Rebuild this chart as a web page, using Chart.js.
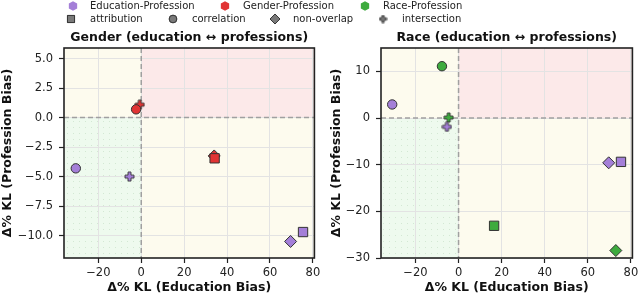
<!DOCTYPE html>
<html>
<head>
<meta charset="utf-8">
<script src="https://cdn.jsdelivr.net/npm/chart.js@4.4.1/dist/chart.umd.min.js"></script>
<style>
  html, body { margin: 0; padding: 0; background: #fff; }
  #wrap { position: relative; width: 640px; height: 295px; font-family: "DejaVu Sans", sans-serif; overflow: hidden; }
  #legendMarks { position: absolute; left: 0; top: 0; }
  #c1 { position: absolute; left: 0; top: 0; }
  #c2 { position: absolute; left: 322px; top: 0; }
  .lg { position: absolute; font-size: 10px; line-height: 12px; color: #222; white-space: nowrap; }
</style>
</head>
<body>
<div id="wrap">
  <canvas id="legendMarks" width="640" height="28"></canvas>
  <canvas id="c1" width="322" height="295"></canvas>
  <canvas id="c2" width="318" height="295"></canvas>
</div>
<script>
// ----- data -----
const groups = ['Education-Profession', 'Gender-Profession', 'Race-Profession']
const groupColors = ['#a47fd8', '#e13434', '#3eab3e']
const legendMarkers = ['attribution', 'correlation', 'non-overlap', 'intersection']
// point order inside each series (later ones are drawn on top)
const markerOrder = ['non-overlap', 'intersection', 'correlation', 'attribution']

// Gender panel: education vs professions
const genderEduX = [69.6, -5.5, -30.5, 75.4]
const genderEduY = [-10.5, -5.0, -4.3, -9.7]
const genderGenX = [34.0, -0.7, -2.4, 34.2]
const genderGenY = [-3.25, 1.1, 0.7, -3.45]

// Race panel: education vs professions
const raceEduX = [69.7, -5.4, -30.8, 75.4]
const raceEduY = [-9.6, -1.9, 2.9, -9.4]
const raceRaceX = [73.0, -4.6, -7.7, 16.5]
const raceRaceY = [-28.4, 0.1, 11.1, -23.1]

// ticks
const xTicks = [-20, 0, 20, 40, 60, 80]
const genderYTicks = [-10, -7.5, -5, -2.5, 0, 2.5, 5]
const raceYTicks = [-30, -20, -10, 0, 10]

Chart.defaults.font.family = "'DejaVu Sans', sans-serif"

// ----- helpers -----
const fmt = (v, dec) => (v < 0 ? '\u2212' : '') + Math.abs(v).toFixed(dec)
const pts = (xs, ys) => xs.map((x, i) => ({ x, y: ys[i] }))

function plusImage(fill, size) {
  const c = document.createElement('canvas')
  c.width = c.height = size + 2
  const ctx = c.getContext('2d')
  const o = 1, a = size / 3, b = 2 * size / 3, s = size
  ctx.beginPath()
  ctx.moveTo(o + a, o); ctx.lineTo(o + b, o); ctx.lineTo(o + b, o + a)
  ctx.lineTo(o + s, o + a); ctx.lineTo(o + s, o + b); ctx.lineTo(o + b, o + b)
  ctx.lineTo(o + b, o + s); ctx.lineTo(o + a, o + s); ctx.lineTo(o + a, o + b)
  ctx.lineTo(o, o + b); ctx.lineTo(o, o + a); ctx.lineTo(o + a, o + a)
  ctx.closePath()
  ctx.fillStyle = fill
  ctx.fill()
  ctx.strokeStyle = '#333'
  ctx.lineWidth = 0.9
  ctx.stroke()
  return c
}

const styleOf = (m, color) => ({
  'attribution': 'rect', 'correlation': 'circle', 'non-overlap': 'rectRot', 'intersection': plusImage(color, 9),
}[m])
const radiusOf = { 'attribution': 6.6, 'correlation': 4.7, 'non-overlap': 6, 'intersection': 5 }

function series(label, color, xs, ys) {
  return {
    label,
    data: pts(xs, ys),
    pointStyle: markerOrder.map(m => styleOf(m, color)),
    pointRadius: markerOrder.map(m => radiusOf[m]),
    backgroundColor: color,
    borderColor: '#333',
    borderWidth: 1,
  }
}

// quadrant shading, zero lines, frame, panel title
const dotCanvas = document.createElement('canvas')
dotCanvas.width = dotCanvas.height = 6
{
  const d = dotCanvas.getContext('2d')
  d.fillStyle = '#eefaee'
  d.fillRect(0, 0, 6, 6)
  d.fillStyle = 'rgba(90,150,90,0.18)'
  d.fillRect(1, 1, 1, 1)
}

const panelPlugin = {
  id: 'panel',
  beforeDraw(chart) {
    const { ctx, chartArea: a, scales: { x, y } } = chart
    const x0 = x.getPixelForValue(0), y0 = y.getPixelForValue(0)
    ctx.save()
    ctx.fillStyle = '#fdfbee'
    ctx.fillRect(a.left, a.top, a.right - a.left, a.bottom - a.top)
    ctx.fillStyle = '#fce9e9'
    ctx.fillRect(x0, a.top, a.right - x0, y0 - a.top)
    ctx.fillStyle = ctx.createPattern(dotCanvas, 'repeat')
    ctx.fillRect(a.left, y0, x0 - a.left, a.bottom - y0)
    ctx.restore()
  },
  beforeDatasetsDraw(chart) {
    const { ctx, chartArea: a, scales: { x, y } } = chart
    const x0 = x.getPixelForValue(0), y0 = y.getPixelForValue(0)
    ctx.save()
    ctx.strokeStyle = '#a0a0a0'
    ctx.lineWidth = 1.5
    ctx.setLineDash([5, 3])
    ctx.beginPath()
    ctx.moveTo(x0, a.top); ctx.lineTo(x0, a.bottom)
    ctx.moveTo(a.left, y0); ctx.lineTo(a.right, y0)
    ctx.stroke()
    ctx.setLineDash([])
    ctx.strokeStyle = '#222'
    ctx.lineWidth = 1.6
    ctx.strokeRect(a.left, a.top, a.right - a.left, a.bottom - a.top)
    ctx.restore()
  },
  afterDraw(chart, args, opts) {
    const { ctx, chartArea: a } = chart
    ctx.save()
    ctx.font = "bold 12.5px 'DejaVu Sans', sans-serif"
    ctx.fillStyle = '#111'
    ctx.textAlign = 'center'
    ctx.textBaseline = 'middle'
    ctx.fillText(opts.text, (a.left + a.right) / 2, a.top - 10)
    ctx.restore()
  },
}

function makeChart(el, opt) {
  return new Chart(el, {
    type: 'scatter',
    data: { datasets: opt.datasets },
    plugins: [panelPlugin],
    options: {
      responsive: false,
      animation: false,
      events: [],
      layout: { padding: { top: 48, right: opt.padRight, left: 0, bottom: 0 } },
      plugins: {
        legend: { display: false },
        tooltip: { enabled: false },
        panel: { text: opt.title },
      },
      scales: {
        x: {
          type: 'linear', min: -36, max: 80.7,
          afterBuildTicks: s => { s.ticks = xTicks.map(v => ({ value: v })) },
          afterFit: s => { s.height = 37; s.paddingLeft = 0; s.paddingRight = 0 },
          grid: { color: '#e3e3e3', lineWidth: 1, tickColor: '#222', tickLength: 5, tickWidth: 1.2 },
          border: { display: false },
          ticks: { color: '#222', font: { size: 11.5 }, padding: 3, maxRotation: 0, autoSkip: false, callback: v => fmt(v, 0) },
          title: { display: true, text: 'Δ% KL (Education Bias)', color: '#111', font: { size: 12.5, weight: 'bold' }, padding: 0 },
        },
        y: {
          type: 'linear', min: opt.yMin, max: opt.yMax,
          afterBuildTicks: s => { s.ticks = opt.yTicks.map(v => ({ value: v })) },
          afterFit: s => { s.width = opt.yWidth; s.paddingTop = 0; s.paddingBottom = 0 },
          grid: { color: '#e3e3e3', lineWidth: 1, tickColor: '#222', tickLength: 5, tickWidth: 1.2 },
          border: { display: false },
          ticks: { color: '#222', font: { size: 11.5 }, padding: 6, autoSkip: false, callback: v => fmt(v, opt.yDec) },
          title: { display: true, text: 'Δ% KL (Profession Bias)', color: '#111', font: { size: 12.5, weight: 'bold' }, padding: { top: opt.yTitlePad, bottom: 0 } },
        },
      },
    },
  })
}

makeChart(document.getElementById('c1'), {
  title: 'Gender (education \u2194 professions)',
  datasets: [
    series(groups[0], groupColors[0], genderEduX, genderEduY),
    series(groups[1], groupColors[1], genderGenX, genderGenY),
  ],
  yMin: -11.9, yMax: 5.9, yTicks: genderYTicks, yDec: 1,
  yWidth: 64, yTitlePad: 0, padRight: 4,
})

makeChart(document.getElementById('c2'), {
  title: 'Race (education \u2194 professions)',
  datasets: [
    series(groups[0], groupColors[0], raceEduX, raceEduY),
    series(groups[2], groupColors[2], raceRaceX, raceRaceY),
  ],
  yMin: -30, yMax: 15, yTicks: raceYTicks, yDec: 0,
  yWidth: 59, yTitlePad: 7, padRight: 5,
})

// ----- legend (two rows above the panels) -----
const wrap = document.getElementById('wrap')
const lctx = document.getElementById('legendMarks').getContext('2d')

function addText(txt, left, top) {
  const s = document.createElement('span')
  s.className = 'lg'
  s.textContent = txt
  s.style.left = left + 'px'
  s.style.top = top + 'px'
  wrap.appendChild(s)
}

function hexagon(ctx, cx, cy, r, fill) {
  ctx.beginPath()
  for (let k = 0; k < 6; k++) {
    const ang = -Math.PI / 2 + k * Math.PI / 3
    const px = cx + r * Math.cos(ang), py = cy + r * Math.sin(ang)
    k === 0 ? ctx.moveTo(px, py) : ctx.lineTo(px, py)
  }
  ctx.closePath()
  ctx.fillStyle = fill
  ctx.fill()
}

const row1 = [[73, 90], [225, 243], [365, 383]]
groups.forEach((g, i) => {
  hexagon(lctx, row1[i][0], 6, 4.8, groupColors[i])
  addText(g, row1[i][1], 0)
})

const row2 = [[71, 90], [173, 192], [275, 293], [383, 402]]
const legendRadius = { 'attribution': 5, 'correlation': 3.8, 'non-overlap': 5, 'intersection': 4 }
legendMarkers.forEach((m, i) => {
  const [mx, tx] = row2[i]
  lctx.save()
  lctx.fillStyle = '#7a7a7a'
  lctx.strokeStyle = '#333'
  lctx.lineWidth = 0.9
  const st = m === 'intersection' ? plusImage('#7a7a7a', 7) : styleOf(m)
  Chart.helpers.drawPoint(lctx, { pointStyle: st, radius: legendRadius[m], rotation: 0, borderWidth: 0.9 }, mx, 19)
  lctx.fill()
  lctx.stroke()
  lctx.restore()
  addText(m, tx, 13)
})
</script>
</body>
</html>
